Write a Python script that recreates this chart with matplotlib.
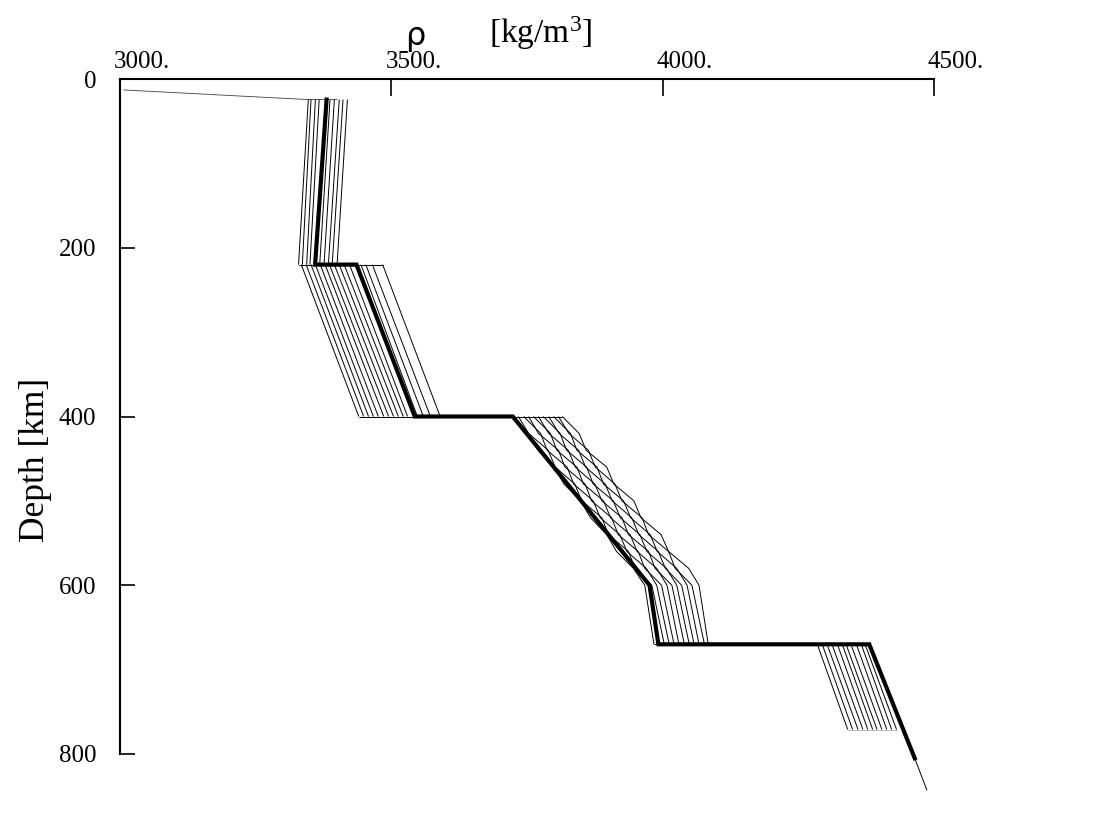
import matplotlib
matplotlib.use("Agg")
import matplotlib.pyplot as plt
from matplotlib.transforms import ScaledTranslation

plt.rcParams["mathtext.fontset"] = "custom"
plt.rcParams["mathtext.rm"] = "Liberation Serif"
plt.rcParams["mathtext.it"] = "Liberation Serif:italic"

# ---------------- data ----------------
# reference (thick) density profile
REF_DEPTH = [24.4, 80, 220, 220, 400, 400, 600, 670, 670, 771, 805]
REF_RHO = [3380.7, 3374.7, 3359.5, 3435.8, 3543.2, 3723.8, 3975.8, 3992.1, 4380.7, 4443.3, 4464.5]
TAIL_DEPTH = [805, 843]
TAIL_RHO = [4464.5, 4487.0]

# crust line
CRUST_DEPTH = [13, 24.4, 24.4]
CRUST_RHO = [3007, 3347, 3400]

# segment A: 24.4 - 220 km
A_DEPTH = [24.4, 220]
A_TOP = [3347, 3352, 3360, 3367, 3387, 3395, 3404, 3411, 3419]
A_BOT = [3329, 3336, 3344, 3350, 3368, 3376, 3384, 3391, 3400]

# segment B: 220 - 400 km
B_DEPTH = [220, 400]
B_TOP = [3334, 3343, 3352, 3360, 3369, 3378, 3386, 3395, 3404, 3413, 3423, 3444, 3453, 3465, 3484]
B_BOT = [3440, 3449, 3458, 3467, 3476, 3486, 3495, 3504, 3513, 3522, 3530, 3548, 3559, 3572, 3590]

# segment C: 400 - 600 km (wavy profiles)
C_DEPTH = [400, 420, 440, 460, 480, 500, 520, 540, 560, 580, 600]
C_RHO = [
    [3724, 3751, 3770, 3800, 3818, 3849, 3867, 3897, 3915, 3946, 3967],
    [3734, 3753, 3789, 3802, 3838, 3851, 3888, 3900, 3937, 3949, 3980],
    [3744, 3775, 3787, 3824, 3836, 3872, 3885, 3921, 3934, 3970, 3989],
    [3753, 3771, 3808, 3820, 3857, 3869, 3906, 3918, 3955, 3967, 3998],
    [3762, 3793, 3805, 3842, 3854, 3891, 3904, 3940, 3953, 3989, 4008],
    [3771, 3790, 3826, 3839, 3875, 3888, 3925, 3937, 3974, 3986, 4017],
    [3780, 3811, 3823, 3860, 3872, 3909, 3922, 3958, 3971, 4007, 4026],
    [3790, 3809, 3845, 3858, 3894, 3907, 3943, 3956, 3992, 4005, 4035],
    [3799, 3830, 3842, 3879, 3891, 3928, 3941, 3977, 3990, 4026, 4045],
    [3808, 3827, 3863, 3876, 3912, 3925, 3962, 3974, 4011, 4023, 4054],
    [3815, 3846, 3859, 3897, 3910, 3947, 3960, 3997, 4011, 4048, 4067],
]

# segment D: 600 - 670 km
D_DEPTH = [600, 670]
D_BOT = [3984, 4003, 4012, 4021, 4030, 4040, 4049, 4058, 4067, 4077, 4084]

# segment E: 670 - 771 km
E_DEPTH = [670, 771]
E_TOP = [4285, 4294, 4303, 4312, 4322, 4331, 4338, 4347, 4357, 4366, 4373]
E_BOT = [4341, 4350, 4360, 4369, 4378, 4387, 4395, 4404, 4413, 4422, 4431]

X_TICKS = [3000, 3500, 4000, 4500]
X_LABELS = ["3000.", "3500.", "4000.", "4500."]
Y_TICKS = [0, 200, 400, 600, 800]
Y_LABELS = ["0", "200", "400", "600", "800"]

# ---------------- figure ----------------
W, H = 1096, 816
fig = plt.figure(figsize=(W / 100, H / 100), dpi=100)
ax = fig.add_axes([120 / W, 1 - 754 / H, 814 / W, 675 / H])
ax.set_xlim(3000, 4500)
ax.set_ylim(800, 0)

SERIF = ["Liberation Serif", "DejaVu Serif"]
thin = dict(color="black", lw=0.7, clip_on=False, solid_capstyle="butt")

# crust line
ax.plot(CRUST_RHO, CRUST_DEPTH, color="0.25", lw=0.6, clip_on=False)

# segment A
for t, b in zip(A_TOP, A_BOT):
    ax.plot([t, b], A_DEPTH, **thin)
# segment B
for t, b in zip(B_TOP, B_BOT):
    ax.plot([t, b], B_DEPTH, **thin)
# segment C + D
for prof, b in zip(C_RHO, D_BOT):
    ax.plot(prof, C_DEPTH, **thin)
    ax.plot([prof[-1], b], D_DEPTH, **thin)
# segment E
for t, b in zip(E_TOP, E_BOT):
    ax.plot([t, b], E_DEPTH, **thin)

# horizontal jumps at discontinuities
c_tops = [p[0] for p in C_RHO]
ax.plot([min(A_BOT + B_TOP), max(A_BOT + B_TOP)], [220, 220], **thin)
ax.plot([min(B_BOT + c_tops), max(B_BOT + c_tops)], [400, 400], **thin)
ax.plot([min(D_BOT + E_TOP), max(D_BOT + E_TOP)], [670, 670], **thin)
ax.plot([min(E_BOT), max(E_BOT)], [771, 771], color="0.6", lw=0.5, clip_on=False)

# thick reference
ax.plot(REF_RHO, REF_DEPTH, color="black", lw=3.0, clip_on=False,
        solid_joinstyle="miter", zorder=5)
ax.plot(TAIL_RHO, TAIL_DEPTH, **thin)

# ---------------- axes styling ----------------
for s in ["right", "bottom"]:
    ax.spines[s].set_visible(False)
ax.spines["top"].set_linewidth(1.5)
ax.spines["left"].set_linewidth(1.5)
ax.spines["top"].set_bounds(3000, 4500)
ax.spines["left"].set_bounds(0, 800)

ax.xaxis.tick_top()
ax.set_xticks(X_TICKS)
ax.set_xticklabels(X_LABELS, fontsize=18, family=SERIF)
ax.tick_params(axis="x", direction="in", length=12, width=1.2, pad=4)
ax.set_yticks(Y_TICKS)
ax.set_yticklabels(Y_LABELS, fontsize=18, family=SERIF)
ax.tick_params(axis="y", direction="in", length=11, width=1.2, pad=17)

offset = ScaledTranslation(-6 / 100, 0, fig.dpi_scale_trans)
for lab in ax.get_xticklabels():
    lab.set_horizontalalignment("left")
    lab.set_transform(lab.get_transform() + offset)

fig.text(36 / W, 1 - 460 / H, "Depth [km]", rotation=90, fontsize=25.5,
         family=SERIF, ha="center", va="center")
fig.text(415 / W, 1 - 36 / H, "ρ", fontsize=23, family=["DejaVu Sans"],
         ha="center", va="center")
fig.text(489 / W, 1 - 33 / H, r"[kg/m$^3$]", fontsize=24, family=SERIF,
         ha="left", va="center")

fig.savefig("out.png", dpi=100)
